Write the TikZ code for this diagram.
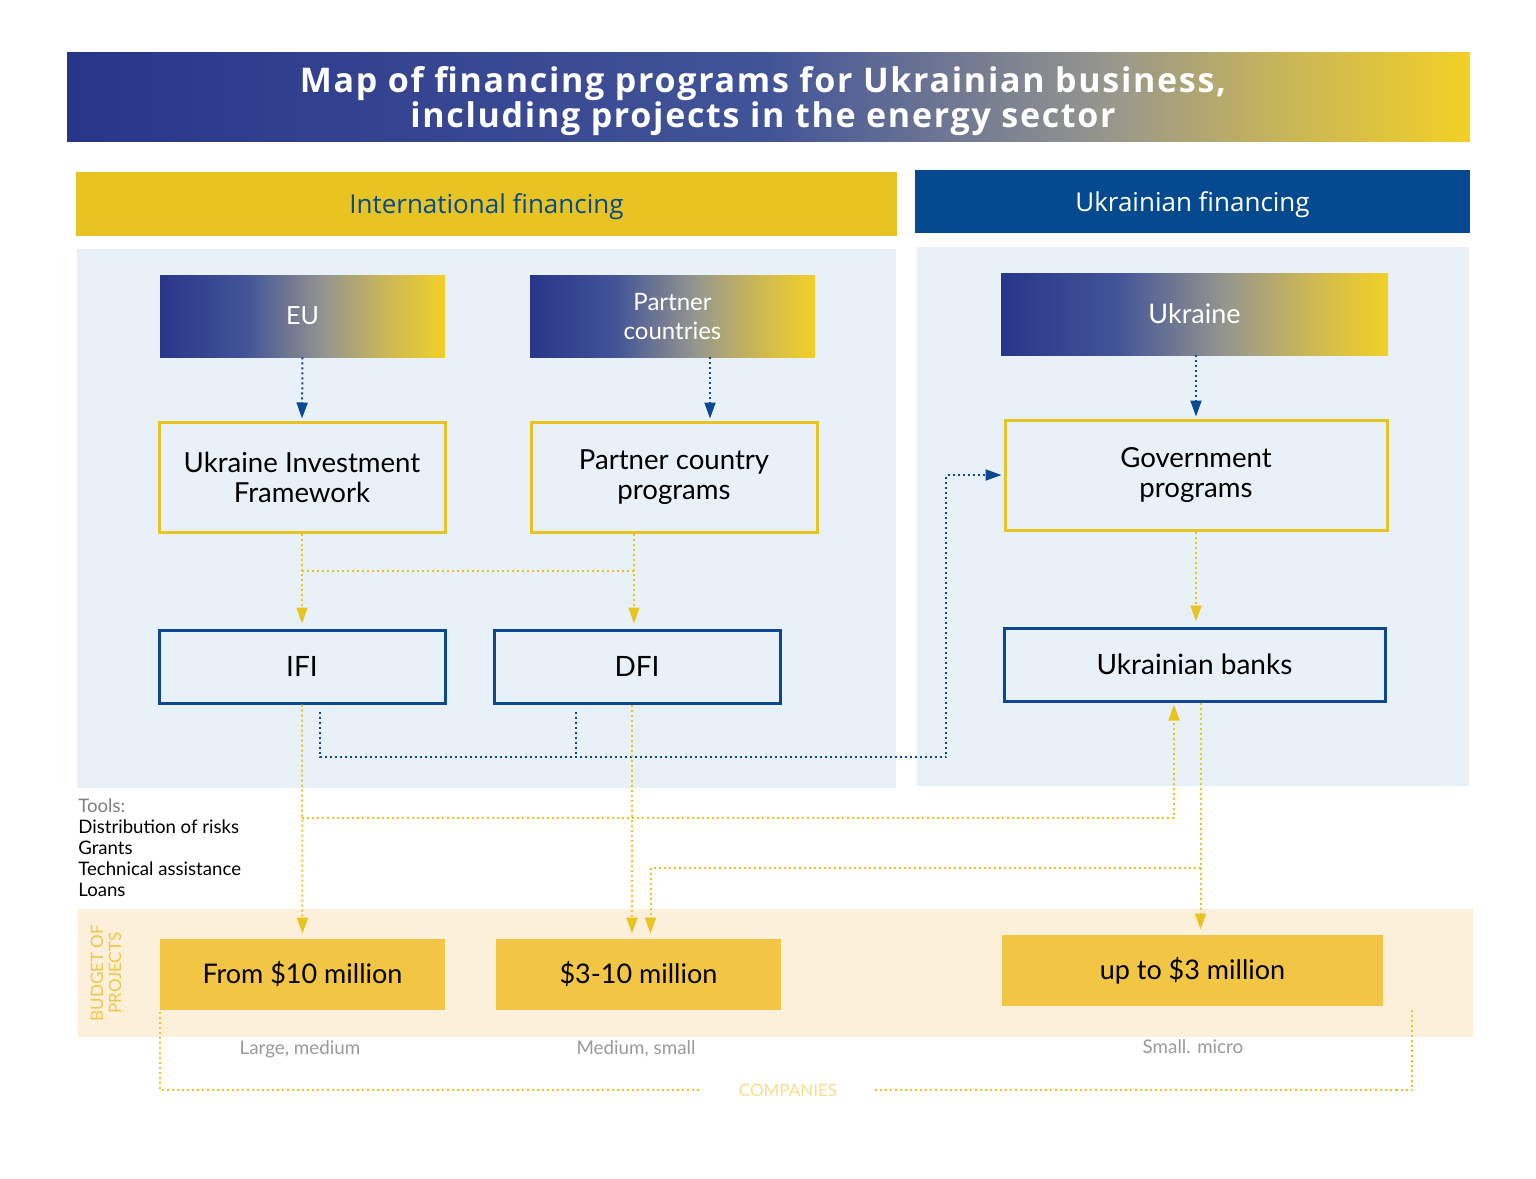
\documentclass[tikz,border=0pt]{standalone}
\usepackage{fontspec}
\setmainfont{Lato}
\newfontfamily\headfont{Open Sans}
\newfontfamily\titlefont[LetterSpace=5]{Open Sans}
\usetikzlibrary{arrows.meta}
\definecolor{uaBlue}{RGB}{40,54,138}
\definecolor{uaBlueMid}{RGB}{66,84,152}
\definecolor{uaGrey}{RGB}{150,150,142}
\definecolor{uaOlive}{RGB}{205,184,84}
\definecolor{uaYellow}{RGB}{242,208,38}
\definecolor{headYellow}{RGB}{232,196,34}
\definecolor{headBlue}{RGB}{5,74,143}
\definecolor{panelBlue}{RGB}{233,241,248}
\definecolor{lineBlue}{RGB}{12,72,145}
\definecolor{budgetCream}{RGB}{252,240,218}
\definecolor{budgetGold}{RGB}{242,197,68}
\definecolor{captionGrey}{RGB}{128,128,128}
\definecolor{companyYellow}{RGB}{246,222,140}
\pgfdeclarehorizontalshading{bannershade}{100bp}{color(0bp)=(uaBlue); color(25bp)=(uaBlue); color(50bp)=(uaBlueMid); color(62bp)=(uaGrey); color(69bp)=(uaOlive); color(75bp)=(uaYellow); color(100bp)=(uaYellow)}
\pgfdeclarehorizontalshading{boxshade}{100bp}{color(0bp)=(uaBlue); color(25bp)=(uaBlue); color(40bp)=(uaBlueMid); color(54bp)=(uaGrey); color(65bp)=(uaOlive); color(75bp)=(uaYellow); color(100bp)=(uaYellow)}

\begin{document}
\begin{tikzpicture}[x=0.5pt,y=-0.5pt,
  gradbox/.style={shade,shading=boxshade,text=white,minimum width=142.5pt,minimum height=41pt,text depth=0pt,align=center,font=\fontsize{12.5}{14.5}\selectfont},
  progbox/.style={draw=headYellow,line width=1.5pt,minimum width=143pt,minimum height=55pt,align=center,font=\fontsize{13.8}{15}\selectfont},
  instbox/.style={draw=lineBlue,line width=1.5pt,minimum width=143pt,minimum height=36.5pt,font=\fontsize{14}{16}\selectfont},
  budgetbox/.style={fill=budgetGold,minimum width=142.5pt,minimum height=35.5pt,font=\fontsize{13.5}{15}\selectfont},
  headbar/.style={minimum height=32pt,text depth=0pt,font=\headfont\fontsize{13}{15}\selectfont},
  caption/.style={text=captionGrey!80,font=\fontsize{9.4}{11}\selectfont},
  bdot/.style={lineBlue,line width=1pt,dash pattern=on 1pt off 1.5pt},
  ydot/.style={headYellow,line width=1pt,dash pattern=on 1pt off 1.5pt},
  barrow/.style={bdot,-{Triangle[length=8pt,width=5.5pt]},shorten >=1pt},
  yarrow/.style={ydot,-{Triangle[length=8pt,width=5.5pt]},shorten >=2.5pt}]
\useasboundingbox (0,0) rectangle (1536,1178);
\fill[white] (0,0) rectangle (1536,1178);

% Title
\shade[shading=bannershade] (67,52) rectangle (1470,141);
\node[text=white,align=center,font=\titlefont\bfseries\fontsize{17}{17.5}\selectfont] (title) at (763,101.5) {Map of financing programs for Ukrainian business,\\including projects in the energy sector};

% Headers and panels
\node[headbar,fill=headYellow,text=headBlue,minimum width=410.5pt] (intl) at (486.5,204) {International financing};
\node[headbar,fill=headBlue,text=white,minimum width=277.5pt,minimum height=31.5pt] (ukr) at (1192.5,201.5) {Ukrainian financing};
\fill[panelBlue] (77,249) rectangle (896,788);
\fill[panelBlue] (917,247) rectangle (1469,786);
\fill[budgetCream] (78,909) rectangle (1473,1037);

% Sources
\node[gradbox] (eu) at (302.5,316) {EU};
\node[gradbox,font=\fontsize{12}{14.5}\selectfont] (pc) at (672.5,316) {Partner\\countries};
\node[gradbox,minimum width=193.5pt,font=\fontsize{13.5}{15}\selectfont] (ua) at (1194.5,314) {Ukraine};

% Programs
\node[progbox] (uif) at (302,477) {Ukraine Investment\\Framework};
\node[progbox] (pcp) at (674,477) {Partner country\\programs};
\node[progbox,minimum width=191pt] (gov) at (1196,475) {Government\\programs};

% Institutions
\node[instbox] (ifi) at (302,666.5) {IFI};
\node[instbox] (dfi) at (637,666.5) {DFI};
\node[instbox,minimum width=190.5pt] (banks) at (1194.5,664.5) {Ukrainian banks};

% Budgets
\node[rotate=90,text=budgetGold,align=center,font=\fontsize{8.5}{9}\selectfont] (budgetlbl) at (106,973) {BUDGET OF\\PROJECTS};
\node[budgetbox] (big) at (302.5,974.5) {From \$10 million};
\node[budgetbox] (mid) at (638.5,974.5) {\$3-10 million};
\node[budgetbox,minimum width=190.5pt] (small) at (1192.5,970.5) {up to \$3 million};
\node[caption] (bigcap) at (300,1049) {Large, medium};
\node[caption] (midcap) at (636,1049) {Medium, small};
\node[caption] (smallcap) at (1193,1047) {Small. micro};

% Tools
\node[anchor=north west,align=left,inner sep=0pt,font=\fontsize{9.3}{10.5}\selectfont] (tools) at (78,798) {{\color{captionGrey}Tools:}\\Distribution of risks\\Grants\\Technical assistance\\Loans};

% Companies
\node[text=companyYellow,inner xsep=19pt,font=\fontsize{8.5}{10}\selectfont] (comp) at (788,1090) {COMPANIES};
\coordinate (compend) at (1412,1010);

% Routing rows
\coordinate (split) at (0,571);
\coordinate (bend) at (946,757);
\coordinate (riskrow) at (0,818);
\coordinate (techrow) at (0,868);

% Blue flows
\draw[barrow] (eu.south) -- (uif.north);
\draw[barrow] ([xshift=18pt]pcp.north |- pc.south) -- ([xshift=18pt]pcp.north);
\draw[barrow] (gov.north |- ua.south) -- (gov.north);
\draw[barrow] ([shift={(9pt,-3.5pt)}]ifi.south) |- (bend) |- (gov.west);
\draw[bdot] ([shift={(-30.5pt,-3.5pt)}]dfi.south) -- ([xshift=-30.5pt]dfi.south |- bend);

% Yellow flows
\draw[yarrow] (uif.south) -- (ifi.north);
\draw[yarrow] ([xshift=-1.5pt]dfi.north |- pcp.south) -- ([xshift=-1.5pt]dfi.north);
\draw[ydot] (uif.south |- split) -- ([xshift=-1.5pt]dfi.north |- split);
\draw[yarrow] (gov.south) -- (gov.south |- banks.north);
\draw[yarrow] (ifi.south) -- (big.north);
\draw[yarrow,shorten >=1pt] (ifi.south |- riskrow) -| ([xshift=-10.25pt]banks.south);
\draw[yarrow] ([xshift=-2.5pt]dfi.south) -- ([xshift=-2.5pt]dfi.south |- mid.north);
\draw[yarrow] ([xshift=3pt]banks.south) -- ([xshift=3pt]banks.south |- small.north);
\draw[yarrow] ([xshift=3pt]banks.south |- techrow) -| ([xshift=6pt]mid.north);
\draw[ydot] ([yshift=-1pt]big.south west) |- (comp.west);
\draw[ydot] (comp.east) -| (compend);
\end{tikzpicture}
\end{document}
